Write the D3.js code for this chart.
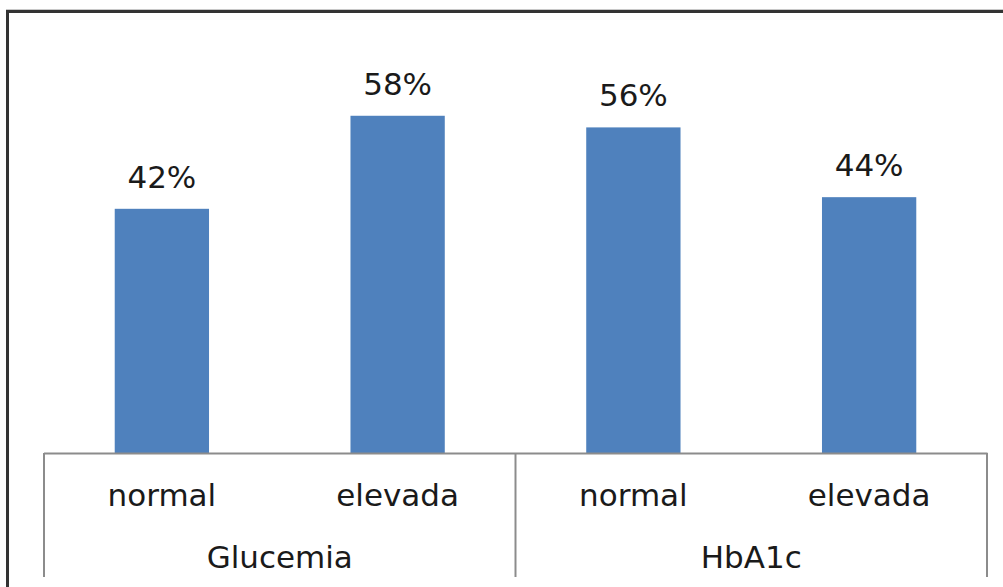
<!DOCTYPE html>
<html>
<head>
<meta charset="utf-8">
<script src="https://cdn.jsdelivr.net/npm/d3@7"></script>
<style>
  html, body { margin: 0; padding: 0; background: #fff; }
  svg { display: block; }
  text { font-family: "DejaVu Sans", Verdana, sans-serif; fill: #1a1a1a; }
</style>
</head>
<body>
<svg id="chart" width="1003" height="587"></svg>
<script>
// Two groups, each split into "normal" / "elevada"
const groups = ["Glucemia", "HbA1c"];
const subcategories = ["normal", "elevada"];
const values = [42, 58, 56, 44]; // percent, in group/subcategory order
const yMax = 70;

const rows = [];
groups.forEach((g, gi) => {
  subcategories.forEach((s, si) => {
    rows.push({ group: g, sub: s, key: g + "|" + s, value: values[gi * subcategories.length + si] });
  });
});

const W = 1003, H = 587;
const plot = { left: 44, right: 987, top: 46, bottom: 453 };
const svg = d3.select("#chart");

// Frame: faint rule above a dark top/left border
svg.append("line").attr("x1", 6).attr("x2", W).attr("y1", 9.5).attr("y2", 9.5)
  .attr("stroke", "#c8c8c8").attr("stroke-width", 1);
svg.append("path")
  .attr("d", `M7.5,${H} V11.5 H${W}`)
  .attr("fill", "none").attr("stroke", "#333").attr("stroke-width", 3);

const x = d3.scaleBand()
  .domain(rows.map(d => d.key))
  .range([plot.left, plot.right])
  .paddingInner(0.6)
  .paddingOuter(0.3);

const y = d3.scaleLinear().domain([0, yMax]).range([plot.bottom, plot.top]);

// Bars
svg.append("g").selectAll("rect").data(rows).join("rect")
  .attr("x", d => x(d.key))
  .attr("y", d => y(d.value))
  .attr("width", x.bandwidth())
  .attr("height", d => y(0) - y(d.value))
  .attr("fill", "#4f81bd");

// Value labels
svg.append("g").selectAll("text").data(rows).join("text")
  .attr("x", d => x(d.key) + x.bandwidth() / 2)
  .attr("y", d => y(d.value) - 21)
  .attr("text-anchor", "middle")
  .attr("font-size", 31)
  .text(d => d.value + "%");

// Category axis: inner labels from the band scale
const axis = svg.append("g")
  .attr("transform", `translate(0,${plot.bottom})`)
  .call(d3.axisBottom(x).tickSize(0).tickPadding(0).tickFormat(k => k.split("|")[1]));
axis.select(".domain").remove();
axis.selectAll("text")
  .attr("y", 53)
  .attr("dy", null)
  .attr("font-size", 31)
  .attr("font-family", "DejaVu Sans, Verdana, sans-serif")
  .attr("fill", "#1a1a1a");

const lineColor = "#8c8c8c";
svg.append("line")
  .attr("x1", plot.left).attr("x2", plot.right + 0.5)
  .attr("y1", plot.bottom + 0.5).attr("y2", plot.bottom + 0.5)
  .attr("stroke", lineColor).attr("stroke-width", 2);

// Group separators and outer group labels
const groupSpan = (plot.right - plot.left) / groups.length;
const sepX = d3.range(groups.length + 1).map(i => plot.left + i * groupSpan);
svg.append("g").selectAll("line").data(sepX).join("line")
  .attr("x1", d => d).attr("x2", d => d)
  .attr("y1", plot.bottom).attr("y2", 577)
  .attr("stroke", lineColor).attr("stroke-width", 2);

svg.append("g").selectAll("text").data(groups).join("text")
  .attr("x", (d, i) => plot.left + (i + 0.5) * groupSpan)
  .attr("y", 568)
  .attr("text-anchor", "middle")
  .attr("font-size", 31)
  .text(d => d);
</script>
</body>
</html>
